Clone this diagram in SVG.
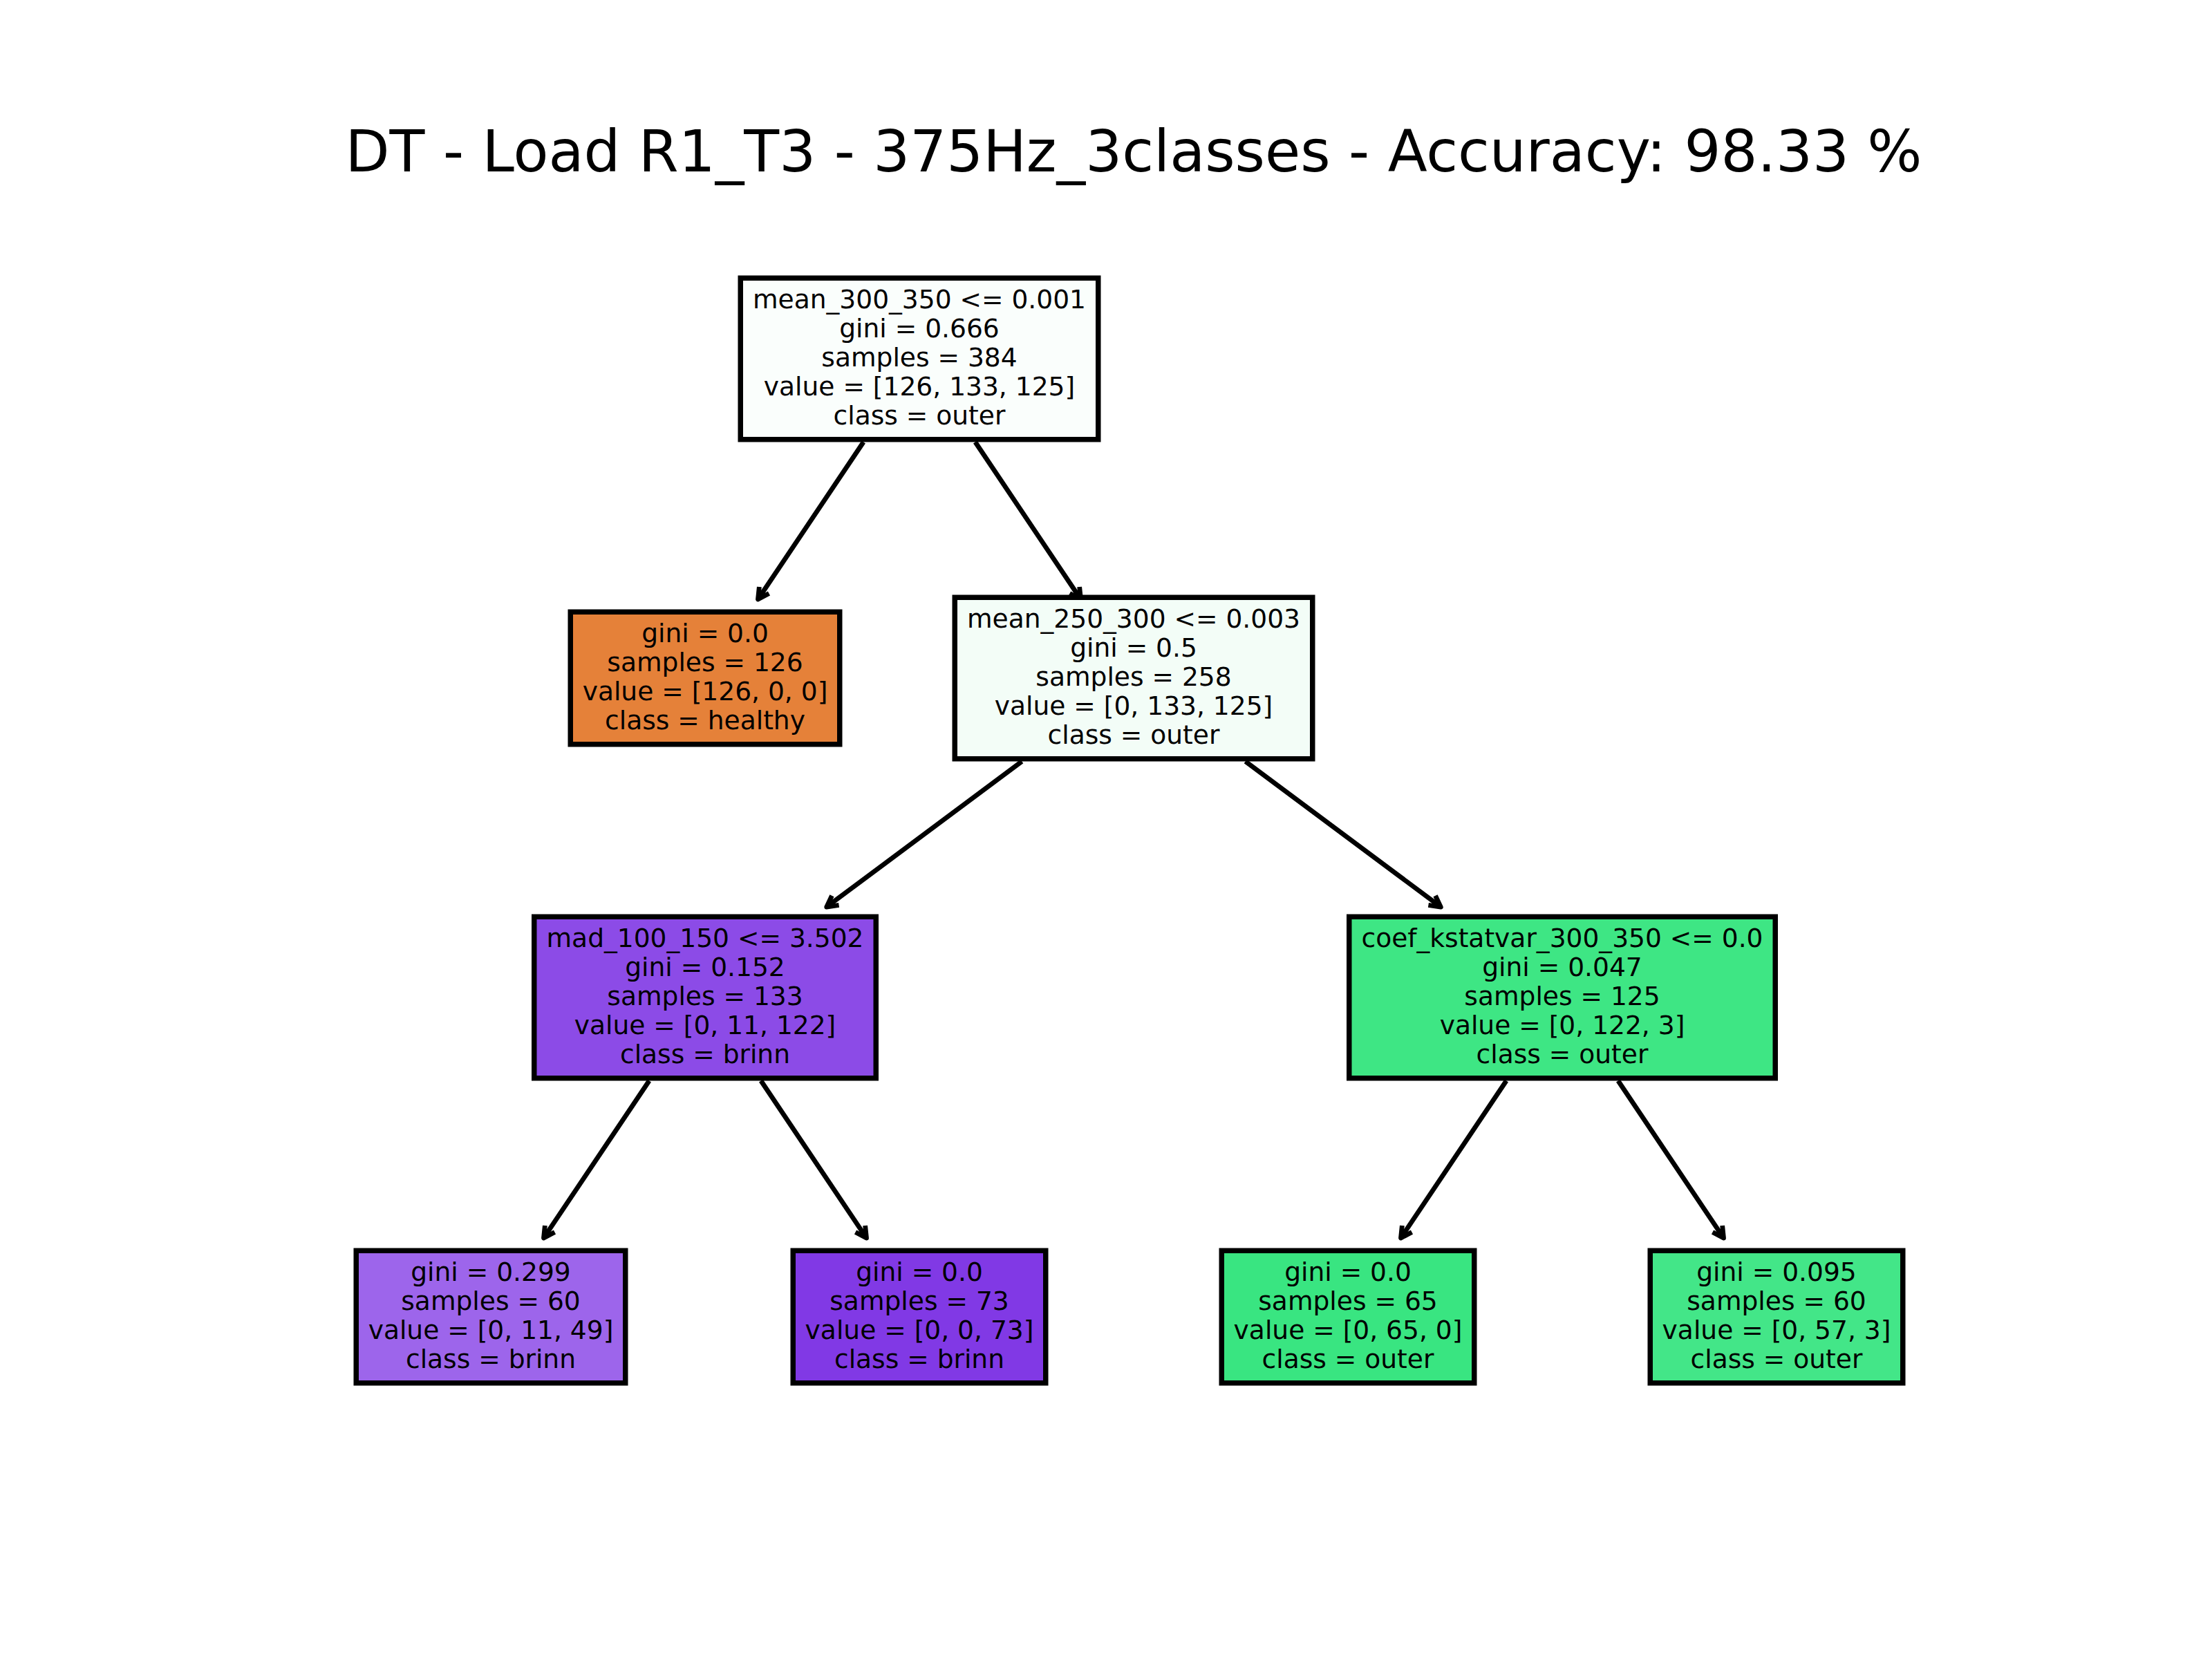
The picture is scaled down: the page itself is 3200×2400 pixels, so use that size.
<svg xmlns="http://www.w3.org/2000/svg" width="3200" height="2400" viewBox="0 0 3200 2400">
<style>
.box{stroke:#000;stroke-width:7.5}
.t{font-family:"DejaVu Sans","Liberation Sans",sans-serif;font-size:37.6px;fill:#000;text-anchor:middle}
.title{font-family:"DejaVu Sans","Liberation Sans",sans-serif;font-size:83.3px;fill:#000;text-anchor:middle}
.edge{stroke:#000;stroke-width:6.8;fill:none;marker-end:url(#ah)}
</style>
<defs>
<marker id="ah" markerUnits="userSpaceOnUse" markerWidth="60" markerHeight="60" viewBox="-30 -30 60 60" refX="0" refY="0" orient="auto" overflow="visible">
<path d="M-16,-8.5 L0,0 L-16,8.5" fill="none" stroke="#000" stroke-width="6.8" stroke-linejoin="round"/>
</marker>
</defs>
<rect x="0" y="0" width="3200" height="2400" fill="#fff"/>
<text class="title" x="1640" y="248">DT - Load R1_T3 - 375Hz_3classes - Accuracy: 98.33 %</text>
<g id="connectors">
<line class="edge" x1="1249.15" y1="639.5" x2="1096.5" y2="867"/>
<line class="edge" x1="1410.85" y1="639.5" x2="1563.5" y2="867"/>
<line class="edge" x1="1478.3" y1="1101.5" x2="1195.7" y2="1312.1"/>
<line class="edge" x1="1801.7" y1="1101.5" x2="2084.3" y2="1312.1"/>
<line class="edge" x1="939.15" y1="1563.5" x2="786.5" y2="1791"/>
<line class="edge" x1="1100.85" y1="1563.5" x2="1253.5" y2="1791"/>
<line class="edge" x1="2179.15" y1="1563.5" x2="2026.5" y2="1791"/>
<line class="edge" x1="2340.85" y1="1563.5" x2="2493.5" y2="1791"/>
</g>
<g id="node0">
<rect class="box" x="1071.25" y="402.25" width="517.5" height="233.5" fill="#fafefc"/>
<text class="t" x="1330" y="445.5">mean_300_350 &lt;= 0.001</text>
<text class="t" x="1330" y="487.5">gini = 0.666</text>
<text class="t" x="1330" y="529.5">samples = 384</text>
<text class="t" x="1330" y="571.5">value = [126, 133, 125]</text>
<text class="t" x="1330" y="613.5">class = outer</text>
</g>
<g id="node1">
<rect class="box" x="825.25" y="885.25" width="389.5" height="191.5" fill="#e58139"/>
<text class="t" x="1020" y="928.5">gini = 0.0</text>
<text class="t" x="1020" y="970.5">samples = 126</text>
<text class="t" x="1020" y="1012.5">value = [126, 0, 0]</text>
<text class="t" x="1020" y="1054.5">class = healthy</text>
</g>
<g id="node2">
<rect class="box" x="1381.25" y="864.25" width="517.5" height="233.5" fill="#f3fdf7"/>
<text class="t" x="1640" y="907.5">mean_250_300 &lt;= 0.003</text>
<text class="t" x="1640" y="949.5">gini = 0.5</text>
<text class="t" x="1640" y="991.5">samples = 258</text>
<text class="t" x="1640" y="1033.5">value = [0, 133, 125]</text>
<text class="t" x="1640" y="1075.5">class = outer</text>
</g>
<g id="node3">
<rect class="box" x="772.75" y="1326.25" width="494.5" height="233.5" fill="#8c4be7"/>
<text class="t" x="1020" y="1369.5">mad_100_150 &lt;= 3.502</text>
<text class="t" x="1020" y="1411.5">gini = 0.152</text>
<text class="t" x="1020" y="1453.5">samples = 133</text>
<text class="t" x="1020" y="1495.5">value = [0, 11, 122]</text>
<text class="t" x="1020" y="1537.5">class = brinn</text>
</g>
<g id="node4">
<rect class="box" x="1951.75" y="1326.25" width="616.5" height="233.5" fill="#3ee684"/>
<text class="t" x="2260" y="1369.5">coef_kstatvar_300_350 &lt;= 0.0</text>
<text class="t" x="2260" y="1411.5">gini = 0.047</text>
<text class="t" x="2260" y="1453.5">samples = 125</text>
<text class="t" x="2260" y="1495.5">value = [0, 122, 3]</text>
<text class="t" x="2260" y="1537.5">class = outer</text>
</g>
<g id="leaf5">
<rect class="box" x="515.25" y="1809.25" width="389.5" height="191.5" fill="#9d65eb"/>
<text class="t" x="710" y="1852.5">gini = 0.299</text>
<text class="t" x="710" y="1894.5">samples = 60</text>
<text class="t" x="710" y="1936.5">value = [0, 11, 49]</text>
<text class="t" x="710" y="1978.5">class = brinn</text>
</g>
<g id="leaf6">
<rect class="box" x="1147.25" y="1809.25" width="365.5" height="191.5" fill="#8139e5"/>
<text class="t" x="1330" y="1852.5">gini = 0.0</text>
<text class="t" x="1330" y="1894.5">samples = 73</text>
<text class="t" x="1330" y="1936.5">value = [0, 0, 73]</text>
<text class="t" x="1330" y="1978.5">class = brinn</text>
</g>
<g id="leaf7">
<rect class="box" x="1767.25" y="1809.25" width="365.5" height="191.5" fill="#39e581"/>
<text class="t" x="1950" y="1852.5">gini = 0.0</text>
<text class="t" x="1950" y="1894.5">samples = 65</text>
<text class="t" x="1950" y="1936.5">value = [0, 65, 0]</text>
<text class="t" x="1950" y="1978.5">class = outer</text>
</g>
<g id="leaf8">
<rect class="box" x="2387.25" y="1809.25" width="365.5" height="191.5" fill="#43e688"/>
<text class="t" x="2570" y="1852.5">gini = 0.095</text>
<text class="t" x="2570" y="1894.5">samples = 60</text>
<text class="t" x="2570" y="1936.5">value = [0, 57, 3]</text>
<text class="t" x="2570" y="1978.5">class = outer</text>
</g>
</svg>
